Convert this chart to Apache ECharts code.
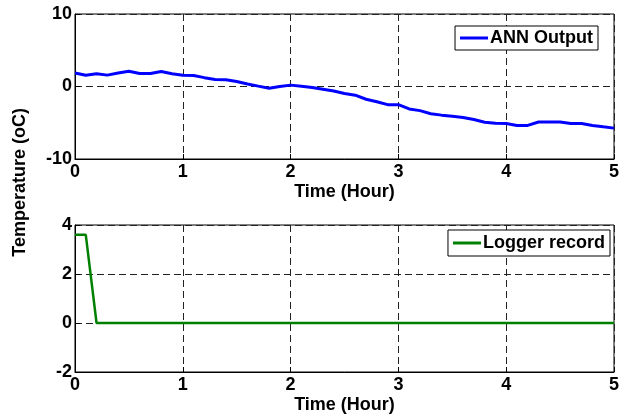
<!DOCTYPE html>
<html>
<head>
<meta charset="utf-8">
<script src="https://cdn.jsdelivr.net/npm/echarts@6/dist/echarts.min.js"></script>
<style>html,body{margin:0;padding:0;background:#fff;}#c{width:623px;height:415px;}</style>
</head>
<body>
<div id="c"></div>
<script>
var annTime = [0,0.1,0.2,0.3,0.4,0.5,0.6,0.7,0.8,0.9,1.0,1.1,1.2,1.3,1.4,1.5,1.6,1.7,1.8,1.9,2.0,2.1,2.2,2.3,2.4,2.5,2.6,2.7,2.8,2.9,3.0,3.1,3.2,3.3,3.4,3.5,3.6,3.7,3.8,3.9,4.0,4.1,4.2,4.3,4.4,4.5,4.6,4.7,4.8,4.9,5.0];
var annOutput = [1.85,1.55,1.75,1.57,1.85,2.1,1.8,1.8,2.08,1.76,1.55,1.53,1.22,0.97,0.93,0.69,0.35,0.05,-0.23,0.0,0.19,0.03,-0.14,-0.37,-0.62,-0.97,-1.2,-1.76,-2.1,-2.5,-2.5,-3.1,-3.33,-3.75,-3.95,-4.1,-4.28,-4.55,-4.92,-5.08,-5.1,-5.37,-5.37,-4.9,-4.9,-4.9,-5.1,-5.1,-5.37,-5.56,-5.74];
var loggerTime = [0,0.1,0.2,5.0];
var loggerRecord = [3.6,3.6,0,0];
var xTicks = [0,1,2,3,4,5];
var topYTicks = [-10,0,10];
var bottomYTicks = [-2,0,2,4];

var FONT = '"Liberation Sans", Arial, Helvetica, sans-serif';
function pairs(xs, ys){ return xs.map(function(x,i){return [x, ys[i]];}); }
var labelStyle = {color:'#000', fontFamily:FONT, fontWeight:'bold', fontSize:18};
var gridLine = {show:true, lineStyle:{color:'#222', type:[7,4], width:1}};

function xAx(idx){
  return {
    type:'value', gridIndex:idx, min:xTicks[0], max:xTicks[xTicks.length-1], interval:1,
    name:'Time (Hour)', nameLocation:'middle', nameGap:24,
    nameTextStyle:labelStyle,
    axisLine:{show:true, onZero:false, lineStyle:{color:'#000', width:1}},
    axisTick:{show:true, inside:true, length:5, lineStyle:{color:'#000'}},
    axisLabel:Object.assign({margin:4}, labelStyle),
    splitLine:gridLine
  };
}
function yAx(idx, ticks){
  return {
    type:'value', gridIndex:idx, min:ticks[0], max:ticks[ticks.length-1], interval:ticks[1]-ticks[0],
    axisLine:{show:true, onZero:false, lineStyle:{color:'#000', width:1}},
    axisTick:{show:true, inside:true, length:5, lineStyle:{color:'#000'}},
    axisLabel:Object.assign({margin:3}, labelStyle),
    splitLine:gridLine
  };
}

var chart = echarts.init(document.getElementById('c'), null, {renderer:'canvas'});
chart.setOption({
  backgroundColor:'#fff',
  animation:false,
  grid:[
    {left:75, top:14, width:539, height:145, show:true, borderColor:'#000', borderWidth:1, backgroundColor:'#fff'},
    {left:75, top:225, width:539, height:147, show:true, borderColor:'#000', borderWidth:1, backgroundColor:'#fff'}
  ],
  xAxis:[xAx(0), xAx(1)],
  yAxis:[yAx(0, topYTicks), yAx(1, bottomYTicks)],
  legend:[
    {data:['ANN Output'], right:25, top:26, orient:'vertical', itemWidth:28, itemHeight:3, itemGap:0,
     padding:[3,5,3,5], borderColor:'#000', borderWidth:1, backgroundColor:'#fff', borderRadius:0,
     textStyle:{color:'#000', fontFamily:FONT, fontWeight:'bold', fontSize:18, padding:[0,0,0,-3]}, icon:'rect'},
    {data:['Logger record'], right:13, top:230, orient:'vertical', itemWidth:28, itemHeight:3, itemGap:0,
     padding:[4,5,4,5], borderColor:'#000', borderWidth:1, backgroundColor:'#fff', borderRadius:0,
     textStyle:{color:'#000', fontFamily:FONT, fontWeight:'bold', fontSize:18, padding:[0,0,0,-3]}, icon:'rect'}
  ],
  graphic:[
    {type:'text', left:11, top:108, rotation:Math.PI/2, originX:0, originY:0,
     style:{text:'Temperature (oC)', fill:'#000', font:'bold 18px ' + FONT}}
  ],
  series:[
    {name:'ANN Output', type:'line', xAxisIndex:0, yAxisIndex:0, data:pairs(annTime, annOutput),
     showSymbol:false, lineStyle:{color:'#0000ff', width:3}, itemStyle:{color:'#0000ff'}},
    {name:'Logger record', type:'line', xAxisIndex:1, yAxisIndex:1, data:pairs(loggerTime, loggerRecord),
     showSymbol:false, lineStyle:{color:'#008000', width:2.5}, itemStyle:{color:'#008000'}}
  ]
});
</script>
</body>
</html>
